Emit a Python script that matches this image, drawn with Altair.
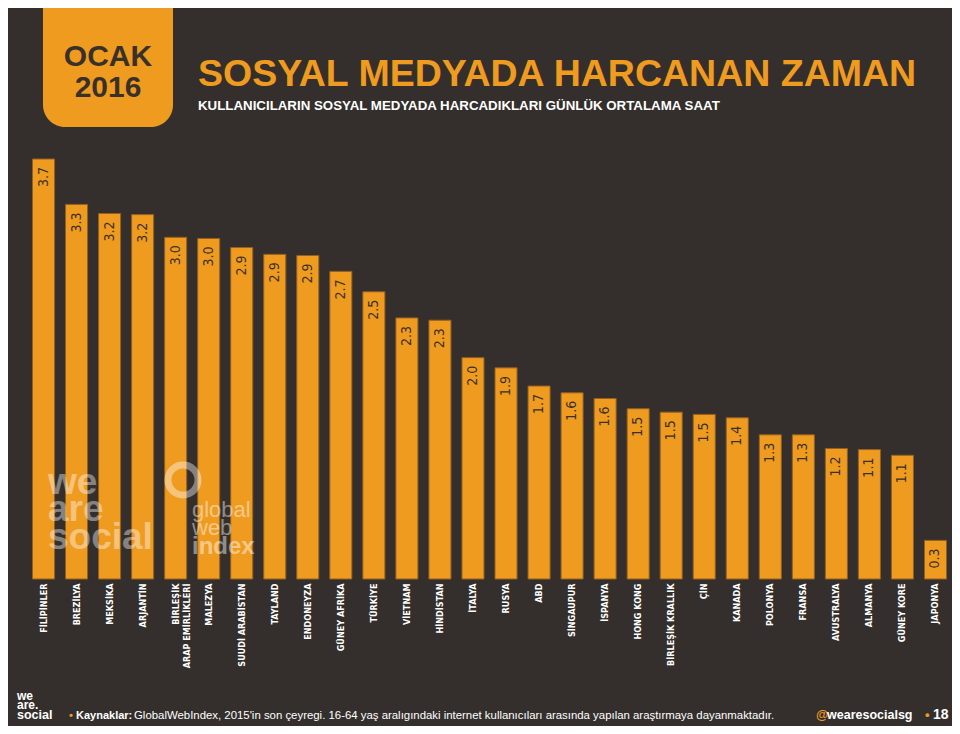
import altair as alt
import pandas as pd

countries = ["FİLİPİNLER", "BREZİLYA", "MEKSİKA", "ARJANTİN", "BİRLEŞİK|ARAP EMİRLİKLERİ",
             "MALEZYA", "SUUDİ ARABİSTAN", "TAYLAND", "ENDONEYZA", "GÜNEY AFRİKA", "TÜRKİYE",
             "VİETNAM", "HİNDİSTAN", "İTALYA", "RUSYA", "ABD", "SİNGAUPUR", "İSPANYA",
             "HONG KONG", "BİRLEŞİK KRALLIK", "ÇİN", "KANADA", "POLONYA", "FRANSA",
             "AVUSTRALYA", "ALMANYA", "GÜNEY KORE", "JAPONYA"]
hours = [3.70, 3.30, 3.22, 3.21, 3.01, 3.00, 2.92, 2.86, 2.85, 2.71, 2.53, 2.30, 2.28,
         1.95, 1.86, 1.70, 1.64, 1.59, 1.50, 1.47, 1.45, 1.42, 1.27, 1.27, 1.15, 1.14,
         1.09, 0.34]
value_labels = ["3.7", "3.3", "3.2", "3.2", "3.0", "3.0", "2.9", "2.9", "2.9", "2.7", "2.5",
                "2.3", "2.3", "2.0", "1.9", "1.7", "1.6", "1.6", "1.5", "1.5", "1.5", "1.4",
                "1.3", "1.3", "1.2", "1.1", "1.1", "0.3"]

title_text = "SOSYAL MEDYADA HARCANAN ZAMAN"
subtitle_text = "KULLANICILARIN SOSYAL MEDYADA HARCADIKLARI GÜNLÜK ORTALAMA SAAT"
badge_lines = ["OCAK", "2016"]
source_bold = "Kaynaklar:"
source_text = ("GlobalWebIndex, 2015'in son çeyregi. 16-64 yaş aralıgındaki internet "
               "kullanıcıları arasında yapılan araştırmaya dayanmaktadır.")
handle_text = "wearesocialsg"
page_number = "18"

ORANGE = "#EF9B20"
BG = "#342F2D"
DARK = "#3A302A"
NARROW = "Liberation Sans Narrow, DejaVu Sans Condensed, sans-serif"
SANS = "Liberation Sans, Arial, sans-serif"

df = pd.DataFrame({"country": countries, "hours": hours, "label": value_labels})

x_enc = alt.X("country:N", sort=countries,
              scale=alt.Scale(paddingInner=0.333, paddingOuter=0.1667),
              axis=alt.Axis(title=None, labelAngle=270, domain=False, ticks=False,
                            labelPadding=4, labelColor="white", labelFont=NARROW,
                            labelFontSize=9, labelFontWeight="bold", labelLimit=300,
                            labelLineHeight=11, labelExpr="split(datum.label, '|')"))
y_enc = alt.Y("hours:Q", scale=alt.Scale(domain=[0, 3.7], nice=False, zero=True), axis=None)

bars = alt.Chart(df).mark_bar(color=ORANGE, stroke="#93601F", strokeWidth=1).encode(
    x=x_enc, y=y_enc)

vals = alt.Chart(df).mark_text(angle=270, align="right", baseline="middle", dx=-8,
                               font=NARROW, fontSize=14, color=DARK).encode(
    x=alt.X("country:N", sort=countries), y="hours:Q", text="label:N")


def txt(s, x, y, size, color="white", weight="normal", font=SANS, opacity=1.0, align="left"):
    return alt.Chart(pd.DataFrame({"t": [s]})).mark_text(
        align=align, baseline="alphabetic", fontSize=size, fontWeight=weight, font=font,
        color=color, opacity=opacity).encode(text="t:N", x=alt.value(x), y=alt.value(y))


badge = alt.Chart(pd.DataFrame({"a": [1]})).mark_rect(color=ORANGE, cornerRadius=22).encode(
    x=alt.value(16), x2=alt.value(146), y=alt.value(-190), y2=alt.value(-32))

layers = [
    bars, vals, badge,
    txt(badge_lines[0], 81, -93, 30, DARK, "bold", align="center"),
    txt(badge_lines[1], 81, -62, 30, DARK, "bold", align="center"),
    txt(title_text, 171, -73, 37.5, ORANGE, "bold"),
    txt(subtitle_text, 171, -49, 13.3, "white", "bold"),
    # watermark
    txt("we", 21, 335, 37, "white", "bold", opacity=0.4),
    txt("are", 21, 362, 37, "white", "bold", opacity=0.4),
    txt("social", 21, 390, 37, "white", "bold", opacity=0.4),
    alt.Chart(pd.DataFrame({"a": [1]})).mark_point(
        shape="circle", size=900, strokeWidth=7, color="white", opacity=0.4, filled=False
    ).encode(x=alt.value(156), y=alt.value(321)),
    txt("global", 165, 358, 22, "white", "normal", opacity=0.45),
    txt("web", 165, 376, 22, "white", "normal", opacity=0.45),
    txt("index", 165, 395, 24, "white", "bold", opacity=0.45),
    # footer
    txt("we", -10, 541, 12, "white", "bold"),
    txt("are.", -10, 550, 12, "white", "bold"),
    txt("social", -10, 560, 12.5, "white", "bold"),
    txt("•", 42, 560, 11, ORANGE, "bold"),
    txt(source_bold, 49, 560, 11, "white", "bold"),
    txt(source_text, 107, 560, 11.4, "white", "normal"),
    txt("@", 789, 560, 12.5, ORANGE, "bold"),
    txt(handle_text, 800, 560, 12.5, "white", "bold"),
    txt("•", 898, 560, 13, ORANGE, "bold"),
    txt(page_number, 906, 560, 14, "white", "bold"),
]

chart = alt.layer(*layers).properties(
    width=925, height=420,
    padding={"left": 19, "top": 151, "right": 0, "bottom": 147},
    autosize="none",
    background=BG,
).configure_view(stroke=None)

chart.save("out.html", embed_options={"renderer": "svg", "actions": False})
